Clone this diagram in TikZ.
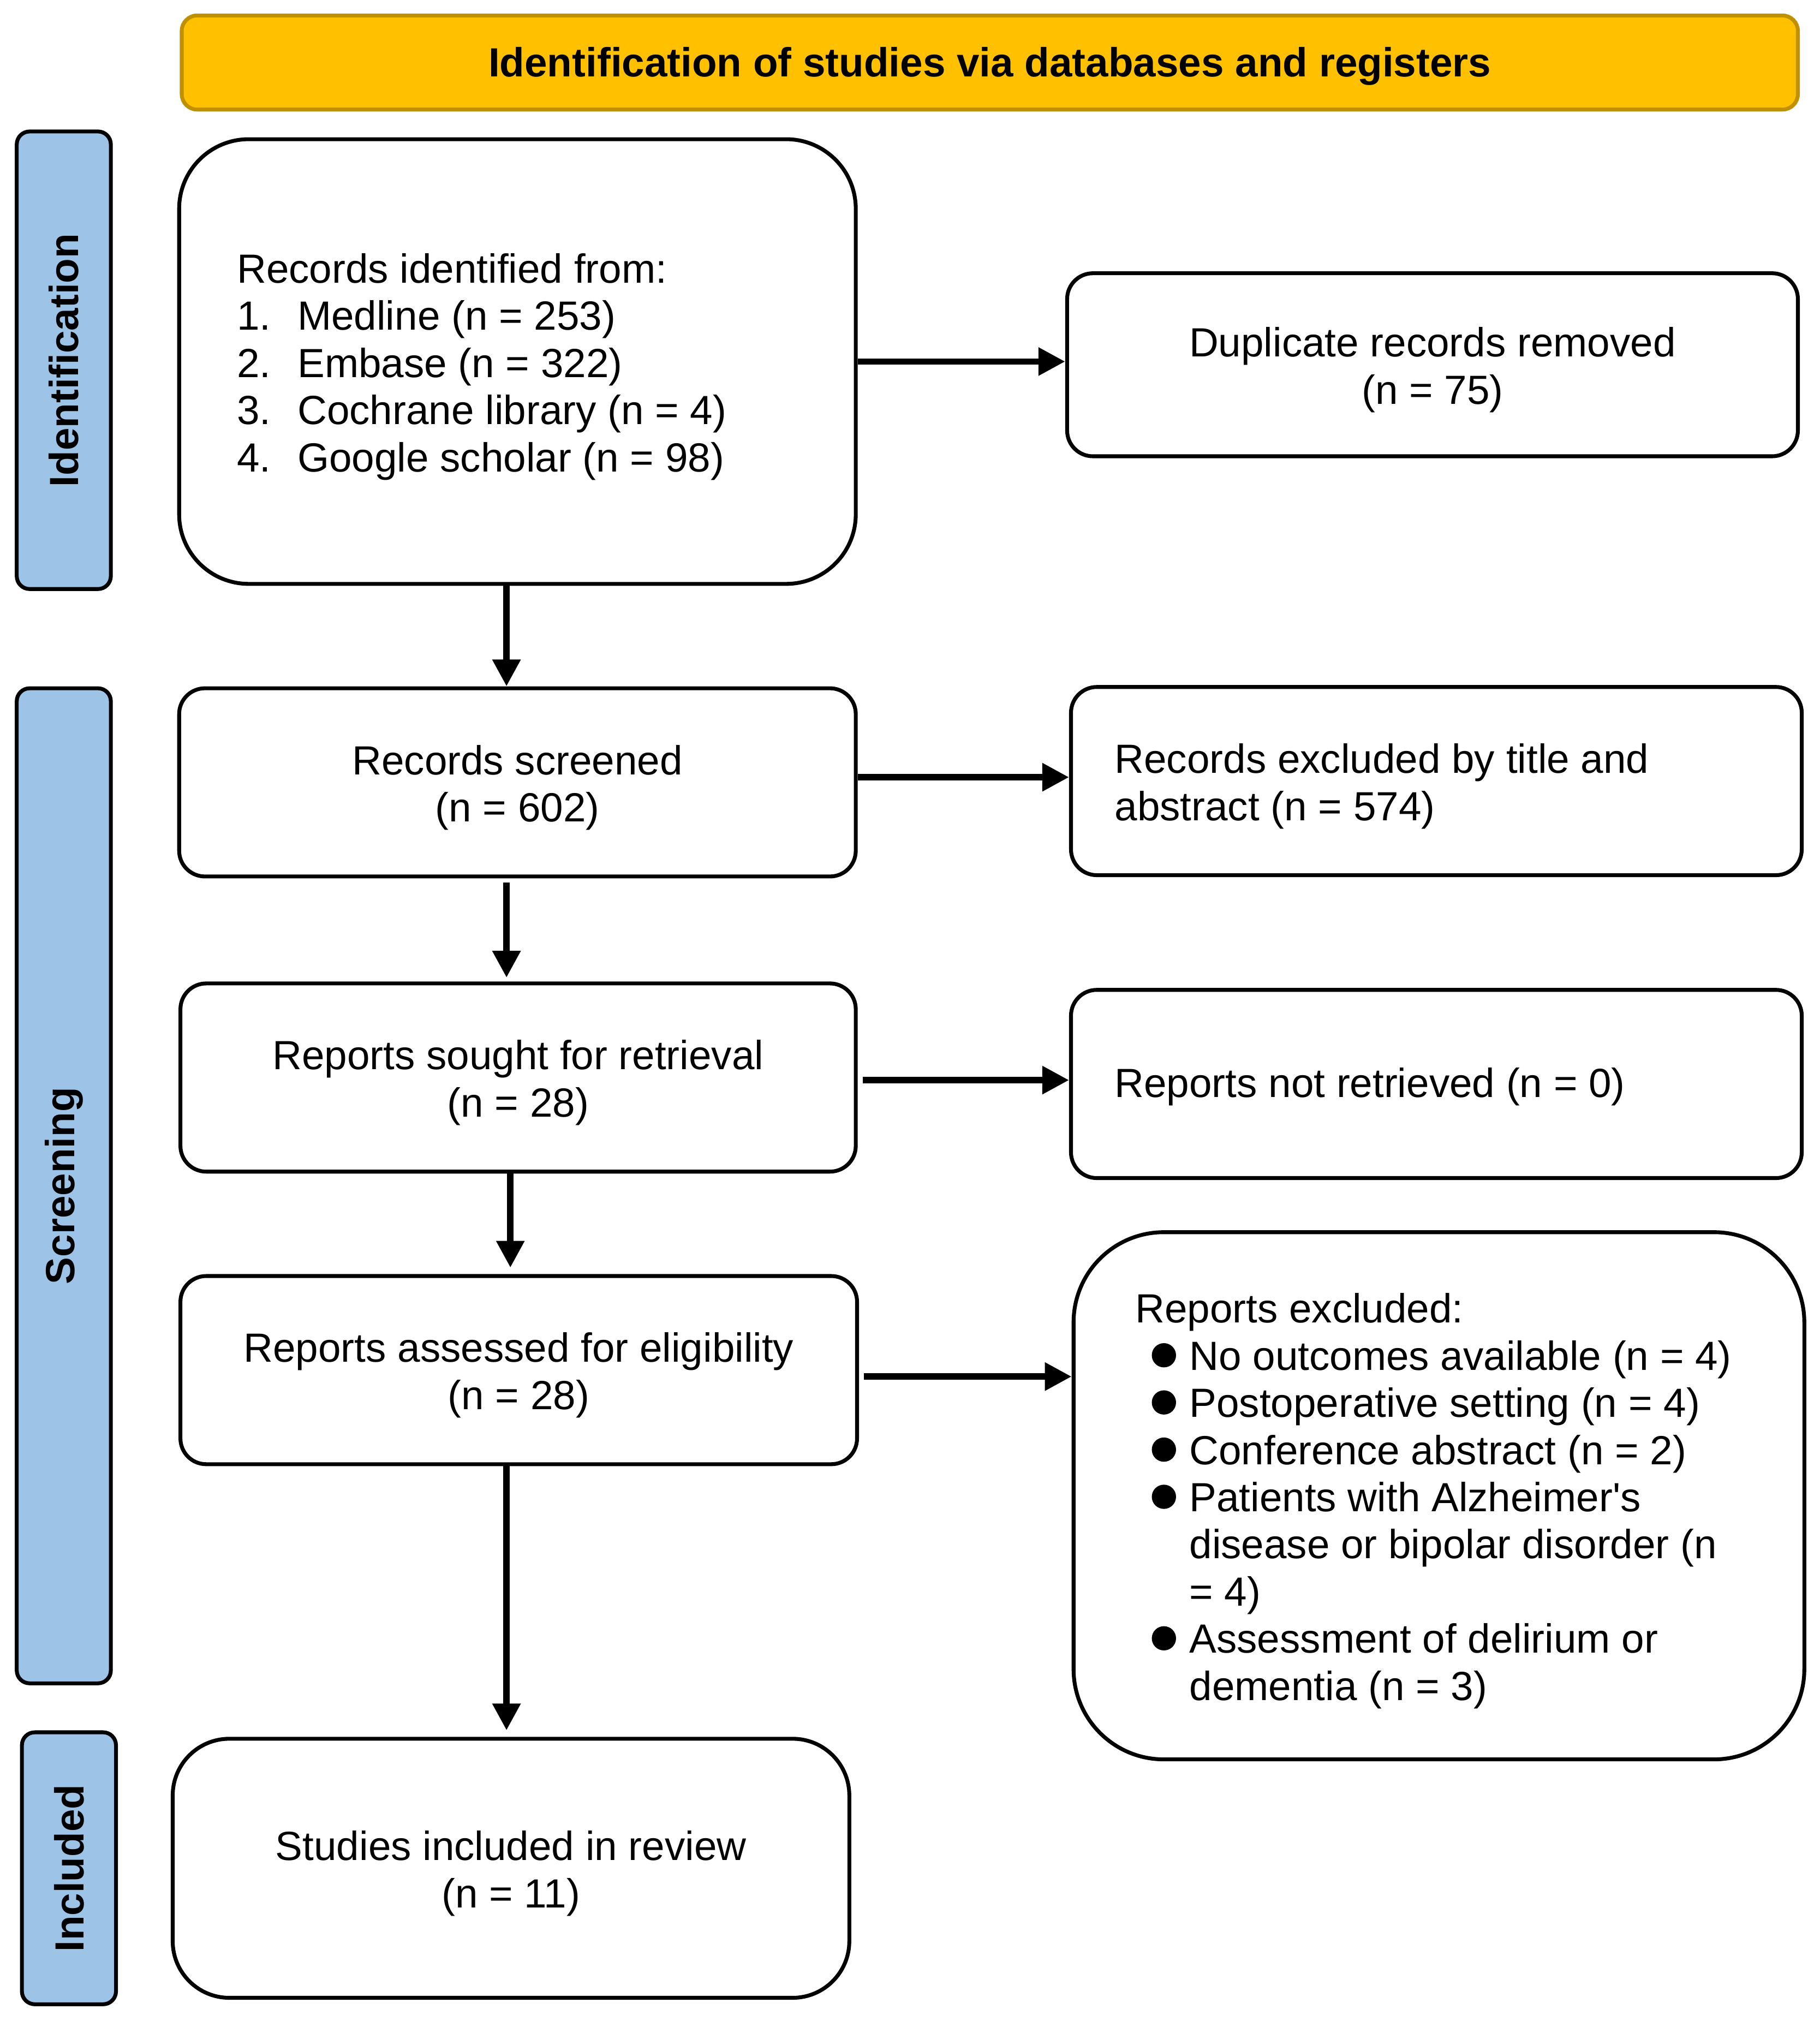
\documentclass[tikz,border=0pt]{standalone}
\usepackage{fontspec}
\setmainfont{Liberation Sans}[Ligatures=TeXOff]
\usetikzlibrary{arrows.meta}
\definecolor{titlefill}{HTML}{FFC000}
\definecolor{titlegold}{HTML}{BF9000}
\definecolor{sideblue}{HTML}{9DC3E6}
\newcommand{\bul}{\tikz[baseline=0pt]\fill (4.7pt,5.7pt) circle[radius=4.7pt];}
\newcommand{\bitem}[1]{\hspace*{6.4pt}\makebox[14.6pt][l]{\bul}#1}
\newcommand{\bcont}[1]{\hspace*{21pt}#1}
\begin{document}
\begin{tikzpicture}[x=0.5pt,y=-0.5pt,
  every node/.style={font=\fontsize{15.8}{18.3}\selectfont},
  box/.style={draw, line width=1.5pt, fill=white, inner sep=0pt},
  side/.style={draw, line width=1.5pt, fill=sideblue, rounded corners=5pt, inner sep=0pt, rotate=90, font=\fontsize{15.8}{18.3}\selectfont\bfseries},
  txt/.style={anchor=west, align=left, inner sep=0pt},
  ctxt/.style={align=center, inner sep=0pt},
  arr/.style={line width=2.5pt, -{Triangle[length=10.4pt,width=10.4pt]}}]
\useasboundingbox (0,0) rectangle (1412,1568);

% title
\node[draw=titlegold, fill=titlefill, line width=1.5pt, rounded corners=6pt,
  minimum width=627pt, minimum height=36.5pt, inner sep=0pt] (title) at (768,48.5) {};
\node[ctxt, font=\fontsize{15.8}{18.3}\selectfont\bfseries] (titlet) at ([yshift=-1.5pt]title.center)
  {Identification of studies via databases and registers};

% side labels
\node[side, minimum width=177.5pt, minimum height=36.5pt] (sid) at (49.5,279.5) {Identification};
\node[side, minimum width=386pt, minimum height=36.5pt] (sscr) at (49.5,920) {Screening};
\node[side, minimum width=105.5pt, minimum height=36.5pt] (sinc) at (53.5,1449.5) {Included};

% main column
\node[box, rounded corners=27pt, minimum width=262.5pt, minimum height=172.5pt] (rec) at (401.5,280.5) {};
\node[txt] (rect) at ([xshift=23pt,yshift=-2pt]rec.west)
  {Records identified from:\\
   \makebox[23.5pt][l]{1.}Medline (n = 253)\\
   \makebox[23.5pt][l]{2.}Embase (n = 322)\\
   \makebox[23.5pt][l]{3.}Cochrane library (n = 4)\\
   \makebox[23.5pt][l]{4.}Google scholar (n = 98)};

\node[box, rounded corners=10pt, minimum width=262.5pt, minimum height=73pt] (scr) at (401.5,607) {};
\node[ctxt] (scrt) at ([yshift=-2pt]scr.center) {Records screened\\(n = 602)};
\node[box, rounded corners=10pt, minimum width=262pt, minimum height=73pt] (sou) at (402,836) {};
\node[ctxt] (sout) at ([yshift=-2pt]sou.center) {Reports sought for retrieval\\(n = 28)};
\node[box, rounded corners=10pt, minimum width=262.5pt, minimum height=73pt] (ass) at (402.5,1063) {};
\node[ctxt] (asst) at ([yshift=-2pt]ass.center) {Reports assessed for eligibility\\(n = 28)};
\node[box, rounded corners=22pt, minimum width=262.5pt, minimum height=100.5pt] (inc) at (396.5,1449.5) {};
\node[ctxt] (inct) at ([yshift=-2pt]inc.center) {Studies included in review\\(n = 11)};

% right column
\node[box, rounded corners=10pt, minimum width=283.5pt, minimum height=71pt] (dup) at (1111.5,283) {};
\node[ctxt] (dupt) at ([yshift=-2pt]dup.center) {Duplicate records removed\\(n = 75)};
\node[box, rounded corners=10pt, minimum width=283.5pt, minimum height=73pt] (exa) at (1114.5,606) {};
\node[txt] (exat) at ([xshift=17.5pt,yshift=-2pt]exa.west)
  {Records excluded by title and\\abstract (n = 574)};
\node[box, rounded corners=10pt, minimum width=283.5pt, minimum height=73pt] (nr) at (1114.5,841) {};
\node[txt] (nrt) at ([xshift=17.5pt,yshift=-1pt]nr.west) {Reports not retrieved (n = 0)};
\node[box, rounded corners=35pt, minimum width=283.5pt, minimum height=204.5pt] (exr) at (1116.5,1160.5) {};
\node[txt] (exrt) at ([xshift=24.5pt,yshift=-2pt]exr.west)
  {Reports excluded:\\
   \bitem{No outcomes available (n = 4)}\\
   \bitem{Postoperative setting (n = 4)}\\
   \bitem{Conference abstract (n = 2)}\\
   \bitem{Patients with Alzheimer's}\\
   \bcont{disease or bipolar disorder (n}\\
   \bcont{= 4)}\\
   \bitem{Assessment of delirium or}\\
   \bcont{dementia (n = 3)}};

% arrows
\draw[arr] (rec.east) -- (rec.east -| dup.west);
\draw[arr] ([yshift=2pt]scr.east) -- ([yshift=2pt]scr.east -| exa.west);
\draw[arr] ([xshift=2pt,yshift=-1pt]sou.east) -- ([yshift=-1pt]sou.east -| nr.west);
\draw[arr] ([xshift=2pt,yshift=-2.5pt]ass.east) -- ([yshift=-2.5pt]ass.east -| exr.west);
\draw[arr] ([xshift=-4.25pt]rec.south) -- ([xshift=-4.25pt]rec.south |- scr.north);
\draw[arr] ([xshift=-4.25pt,yshift=-1.5pt]scr.south) -- ([xshift=-4.25pt,yshift=1.5pt]scr.south |- sou.north);
\draw[arr] ([xshift=-3pt]sou.south) -- ([xshift=-3pt,yshift=2.5pt]sou.south |- ass.north);
\draw[arr] ([xshift=-4.75pt]ass.south) -- ([xshift=-4.75pt,yshift=2.5pt]ass.south |- inc.north);
\end{tikzpicture}
\end{document}
